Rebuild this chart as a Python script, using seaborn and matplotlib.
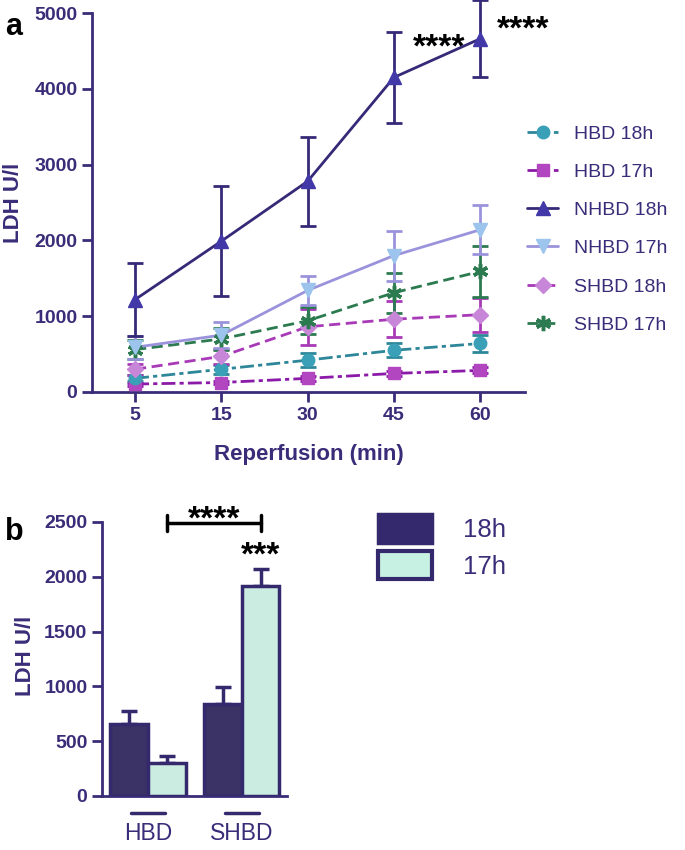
import numpy as np
import pandas as pd
import seaborn as sns
import matplotlib
matplotlib.use('Agg')
from matplotlib import pyplot as plt
from matplotlib.patches import Patch
from matplotlib.lines import Line2D
import matplotlib.transforms as mtransforms

# panel a data (LDH U/l over reperfusion time)
times = ['5', '15', '30', '45', '60']
series = ['HBD 18h', 'HBD 17h', 'NHBD 18h', 'NHBD 17h', 'SHBD 18h', 'SHBD 17h']
hbd18 = [180, 300, 420, 550, 640]
hbd18_err = [40, 60, 90, 90, 118]
hbd17 = [105, 125, 180, 245, 285]
hbd17_err = [20, 25, 30, 35, 40]
nhbd18 = [1220, 1990, 2780, 4150, 4660]
nhbd18_err = [480, 730, 590, 600, 510]
nhbd17 = [590, 750, 1340, 1800, 2140]
nhbd17_err = [150, 170, 190, 330, 325]
shbd18 = [300, 470, 860, 960, 1020]
shbd18_err = [70, 100, 240, 235, 225]
shbd17 = [560, 700, 940, 1310, 1590]
shbd17_err = [130, 150, 180, 265, 335]

# panel b data
groups = ['HBD', 'SHBD']
bar18 = [660, 840]
bar18_err = [120, 155]
bar17 = [300, 1920]
bar17_err = [65, 150]

navy = '#3a2c78'
barnavy = '#35296e'
mint = '#c6f1e3'

sns.set_style('ticks')
plt.rcParams['font.family'] = ['Liberation Sans', 'DejaVu Sans']

fig = plt.figure(figsize=(6.85, 8.5), dpi=100)
axa = fig.add_axes([92/685, 1-392/850, (525-92)/685, (392-13)/850])
axb = fig.add_axes([102/685, 1-796/850, (287-102)/685, (796-522)/850])

# style per series: marker colour, line colour, marker, dashes, marker size
styles = {
    'HBD 18h': ('#3aa0b8', '#2e8799', 'o', (5, 1.5, 1.5, 1.5), 9),
    'HBD 17h': ('#b245c0', '#8b1aa8', 's', (5, 1.5, 1.5, 1.5), 9),
    'NHBD 18h': ('#4338a8', '#362a78', '^', None, 10),
    'NHBD 17h': ('#9cc4ec', '#9a93dc', 'v', None, 10),
    'SHBD 18h': ('#c886d8', '#a83ab8', 'D', (4, 2), 8),
    'SHBD 17h': ('#2b7a50', '#2b7a50', (6, 2, 0), (4, 2), 11),
}
values = {'HBD 18h': (hbd18, hbd18_err), 'HBD 17h': (hbd17, hbd17_err),
          'NHBD 18h': (nhbd18, nhbd18_err), 'NHBD 17h': (nhbd17, nhbd17_err),
          'SHBD 18h': (shbd18, shbd18_err), 'SHBD 17h': (shbd17, shbd17_err)}

rows = []
for s in series:
    for i, t in enumerate(times):
        rows.append(dict(series=s, pos=i, time=t, ldh=values[s][0][i], err=values[s][1][i]))
dfa = pd.DataFrame(rows)

draw_order = ['HBD 17h', 'HBD 18h', 'SHBD 18h', 'SHBD 17h', 'NHBD 17h', 'NHBD 18h']
for s in draw_order:
    mc, lc, mk, dash, ms = styles[s]
    sub = dfa[dfa['series'] == s]
    axa.errorbar(sub['pos'], sub['ldh'], yerr=sub['err'], fmt='none', ecolor=lc,
                 elinewidth=2, capsize=6, capthick=2, clip_on=False, zorder=2)
    sns.lineplot(data=sub, x='pos', y='ldh', ax=axa, color=lc, linewidth=2,
                 errorbar=None, zorder=3)
    line = axa.lines[-1]
    if dash is not None:
        line.set_dashes(dash)
    axa.plot(sub['pos'], sub['ldh'], linestyle='none', marker=mk, markersize=ms,
             color=mc, markeredgecolor=mc,
             markeredgewidth=2.5 if mk == (6, 2, 0) else 1, zorder=4, clip_on=False)

handles = []
for s in series:
    mc, lc, mk, dash, ms = styles[s]
    h = Line2D([0], [0], color=lc, linewidth=2, marker=mk, markersize=ms,
               markerfacecolor=mc, markeredgecolor=mc,
               markeredgewidth=2.5 if mk == (6, 2, 0) else 1)
    if dash is not None:
        h.set_dashes(dash)
    handles.append(h)

axa.set_xlim(-0.5, 4.52)
axa.set_ylim(0, 5000)
axa.set_xticks(range(len(times)))
axa.set_xticklabels(times)
axa.set_yticks(np.arange(0, 5001, 1000))
axa.set_xlabel('Reperfusion (min)', fontsize=16, fontweight='bold', color=navy)
axa.set_ylabel('LDH U/l', fontsize=16, fontweight='bold', color=navy)
axa.xaxis.set_label_coords(0.5, -0.137)
axa.yaxis.set_label_coords(-0.157, 0.5)

axa.text(3.53, 4540, '****', fontsize=24, fontweight='bold', ha='center', va='center', color='black')
axa.text(4.5, 4776, '****', fontsize=24, fontweight='bold', ha='center', va='center', color='black')

fig.legend(handles=handles, labels=series, loc='upper left',
           bbox_to_anchor=(527/685, 1-125/850), frameon=False, fontsize=14,
           labelcolor=navy, handlelength=1.6, handletextpad=0.8, labelspacing=1.06,
           borderpad=0, borderaxespad=0)

# panel b
dfb = pd.DataFrame({'group': groups * 2,
                    'time': ['18h'] * len(groups) + ['17h'] * len(groups),
                    'ldh': bar18 + bar17,
                    'err': bar18_err + bar17_err})
sns.barplot(data=dfb, x='group', y='ldh', hue='time', hue_order=['18h', '17h'],
            palette={'18h': barnavy, '17h': mint}, edgecolor=barnavy, linewidth=2.5,
            errorbar=None, width=0.8, legend=False, ax=axb, zorder=3)
for patch, err in zip(axb.patches, dfb['err']):
    xc = patch.get_x() + patch.get_width() / 2
    axb.errorbar(xc, patch.get_height(), yerr=[[0], [err]], fmt='none', ecolor=barnavy,
                 elinewidth=2.5, capsize=6, capthick=2.5, zorder=2)

axb.set_xlim(-0.49, 1.48)
axb.set_ylim(0, 2500)
axb.set_yticks(np.arange(0, 2501, 500))
axb.set_xlabel('')
axb.set_ylabel('LDH U/l', fontsize=16, fontweight='bold', color=navy)
axb.yaxis.set_label_coords(-0.357, 0.51)
axb.tick_params(axis='x', length=0, pad=18.5, labelsize=16.5, labelcolor=navy)
trans = mtransforms.blended_transform_factory(axb.transData, axb.transAxes)
for i in range(len(groups)):
    axb.plot([i - 0.18, i + 0.18], [-0.062, -0.062], color=barnavy, linewidth=2.5,
             transform=trans, clip_on=False)

# significance bracket
axb.plot([0.2, 1.2], [2490, 2490], color='black', linewidth=2.5, clip_on=False)
axb.plot([0.2, 0.2], [2420, 2565], color='black', linewidth=2.5, clip_on=False)
axb.plot([1.2, 1.2], [2420, 2565], color='black', linewidth=2.5, clip_on=False)
axb.text(0.7, 2518, '****', fontsize=24, fontweight='bold', ha='center', va='center', color='black')
axb.text(1.2, 2190, '***', fontsize=24, fontweight='bold', ha='center', va='center', color='black')

bhandles = [Patch(facecolor=barnavy, edgecolor=barnavy, linewidth=2.5),
            Patch(facecolor=mint, edgecolor=barnavy, linewidth=3)]
fig.legend(handles=bhandles, labels=['18h', '17h'], loc='upper left',
           bbox_to_anchor=(378/685, 1-514/850), frameon=False, fontsize=18.5,
           labelcolor=navy, handlelength=2.1, handleheight=1.35, handletextpad=1.2,
           labelspacing=0.3, borderpad=0, borderaxespad=0)

for ax in (axa, axb):
    sns.despine(ax=ax)
    for sp in ('left', 'bottom'):
        ax.spines[sp].set_color(navy)
        ax.spines[sp].set_linewidth(2)
    ax.tick_params(axis='y', direction='out', length=7, width=2, color=navy,
                   labelcolor=navy, labelsize=14)
    for lab in ax.get_yticklabels():
        lab.set_fontweight('bold')
axa.tick_params(axis='x', direction='out', length=7, width=2, color=navy,
                labelcolor=navy, labelsize=14)
for lab in axa.get_xticklabels():
    lab.set_fontweight('bold')

fig.text(5/685, 1-35/850, 'a', fontsize=22, fontweight='bold', color='black')
fig.text(5/685, 1-540/850, 'b', fontsize=22, fontweight='bold', color='black')

fig.savefig('out.png', dpi=100)
